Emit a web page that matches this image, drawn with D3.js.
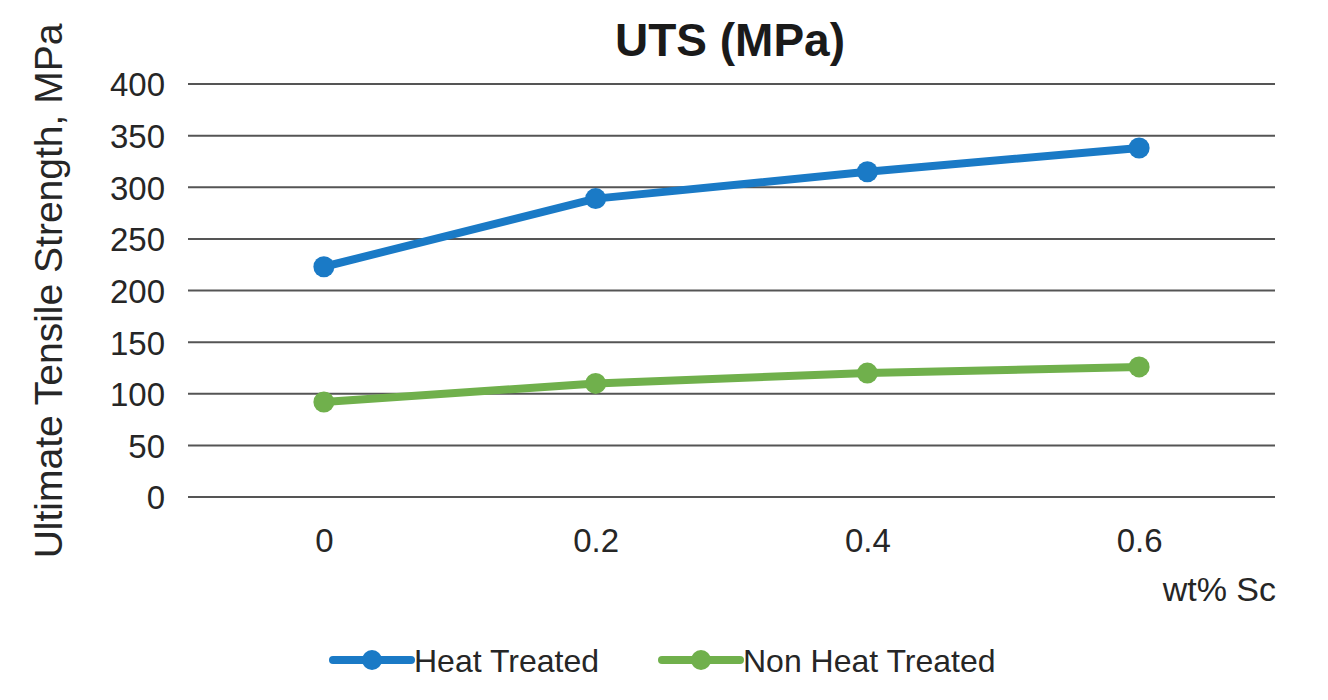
<!DOCTYPE html>
<html><head><meta charset="utf-8">
<script src="https://cdn.jsdelivr.net/npm/d3@7"></script>
<style>body{margin:0;background:#fff}svg{display:block}text{font-family:"Liberation Sans",Arial,sans-serif;fill:#262626}</style>
</head><body>
<svg id="c" width="1328" height="700"></svg>
<script>
const categories = ["0", "0.2", "0.4", "0.6"];
const heatTreated = [223, 289, 315, 338];
const nonHeatTreated = [92, 110, 120, 126];
const yTicks = [0, 50, 100, 150, 200, 250, 300, 350, 400];
const seriesNames = ["Heat Treated", "Non Heat Treated"];
const seriesColors = ["#1a7ac6", "#70b04c"];

const svg = d3.select("#c");
const L = 188, R = 1275, T = 84, B = 497;
const x = d3.scalePoint().domain(categories).range([L, R]).padding(0.5);
const y = d3.scaleLinear().domain([0, 400]).range([B, T]);

// gridlines
svg.append("g").selectAll("line").data(yTicks).join("line")
  .attr("x1", L).attr("x2", R).attr("y1", d => y(d)).attr("y2", d => y(d))
  .attr("stroke", "#555").attr("stroke-width", 2);

// y axis labels
const yAxis = d3.axisLeft(y).tickValues(yTicks).tickSize(0).tickPadding(23);
const gy = svg.append("g").attr("transform", `translate(${L},0)`).call(yAxis);
gy.select(".domain").remove();
gy.selectAll("text").style("font-size", "33px").attr("fill", "#262626").attr("dy", "0.36em");

// x axis labels
const xAxis = d3.axisBottom(x).tickSize(0).tickPadding(0);
const gx = svg.append("g").attr("transform", `translate(0,${B})`).call(xAxis);
gx.select(".domain").remove();
gx.selectAll("text").style("font-size", "33px").attr("fill", "#262626").attr("y", 43).attr("dy", "0.36em");

// series
const series = [heatTreated, nonHeatTreated];
const line = d3.line().x((d, i) => x(categories[i])).y(d => y(d));
series.forEach((s, k) => {
  svg.append("path").datum(s).attr("d", line).attr("fill", "none")
    .attr("stroke", seriesColors[k]).attr("stroke-width", 8).attr("stroke-linejoin", "round");
  svg.append("g").selectAll("circle").data(s).join("circle")
    .attr("cx", (d, i) => x(categories[i])).attr("cy", d => y(d)).attr("r", 10.5)
    .attr("fill", seriesColors[k]);
});

// title
svg.append("text").attr("x", 730).attr("y", 56).attr("text-anchor", "middle")
  .style("font-size", "46px").style("font-weight", "bold").style("fill", "#1a1a1a").text("UTS (MPa)");

// y axis title
svg.append("text").attr("transform", "translate(62,291) rotate(-90)").attr("text-anchor", "middle")
  .style("font-size", "39px").text("Ultimate Tensile Strength, MPa");

// x axis title
svg.append("text").attr("x", 1276).attr("y", 601).attr("text-anchor", "end")
  .style("font-size", "34px").text("wt% Sc");

// legend
const legX = [333, 662];
seriesNames.forEach((n, k) => {
  const g = svg.append("g").attr("transform", `translate(${legX[k]},660)`);
  g.append("line").attr("x1", 0).attr("x2", 78).attr("stroke", seriesColors[k])
    .attr("stroke-width", 8).attr("stroke-linecap", "round");
  g.append("circle").attr("cx", 39).attr("r", 10).attr("fill", seriesColors[k]);
  g.append("text").attr("x", 81).attr("dy", "0.36em").style("font-size", "32px").text(n);
});
</script>
</body></html>
